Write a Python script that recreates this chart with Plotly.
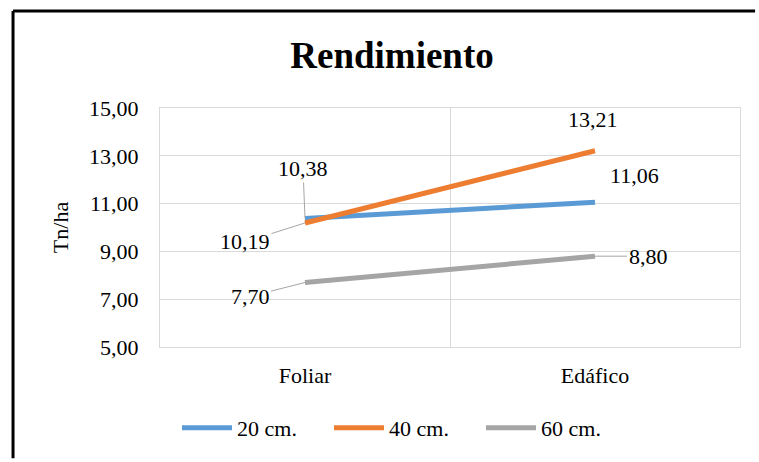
import plotly.graph_objects as go

categories = ["Foliar", "Edáfico"]
series_names = ["20 cm.", "40 cm.", "60 cm."]
v20 = [10.38, 11.06]
v40 = [10.19, 13.21]
v60 = [7.70, 8.80]
colors = ["#5B9BD5", "#ED7D31", "#A5A5A5"]
y_ticks = [5, 7, 9, 11, 13, 15]

FONT = "Liberation Serif"

fig = go.Figure()
for name, vals, col in zip(series_names, [v20, v40, v60], colors):
    fig.add_trace(go.Scatter(x=categories, y=vals, mode="lines", name=name,
                             line=dict(color=col, width=5)))

def fmt(v):
    return f"{v:.2f}".replace(".", ",")

# label placement: (series values, index, ax, ay, arrow?)
label_specs = [
    (v20, 0, -2, -50, True),
    (v20, 1, 39, -27, False),
    (v40, 0, -60, 19, True),
    (v40, 1, -2, -31, False),
    (v60, 0, -55, 14, True),
    (v60, 1, 53, 0, True),
]
for vals, i, ax, ay, arrow in label_specs:
    if arrow:
        fig.add_annotation(x=categories[i], y=vals[i], text=fmt(vals[i]),
                           showarrow=True, arrowhead=0, arrowwidth=1,
                           arrowcolor="#A6A6A6", ax=ax, ay=ay,
                           font=dict(family=FONT, size=22, color="#000"))
    else:
        fig.add_annotation(x=categories[i], y=vals[i], text=fmt(vals[i]),
                           showarrow=False, xshift=ax, yshift=-ay,
                           font=dict(family=FONT, size=22, color="#000"))

# chart border (top and left edges; the rest lies outside the picture)
fig.add_shape(type="line", xref="paper", yref="paper",
              x0=-0.2534, x1=1.026, y0=1.406, y1=1.406,
              line=dict(color="#000", width=3), layer="above")
fig.add_shape(type="line", xref="paper", yref="paper",
              x0=-0.2534, x1=-0.2534, y0=-0.465, y1=1.406,
              line=dict(color="#000", width=3), layer="above")

fig.update_layout(
    width=759, height=462,
    margin=dict(l=160, r=19, t=108, b=115),
    paper_bgcolor="white", plot_bgcolor="white",
    font=dict(family=FONT, size=22, color="#000"),
    separators=",.",
    title=dict(text="<b>Rendimiento</b>", x=392 / 759, xanchor="center",
               y=1 - 55 / 462, yanchor="middle",
               font=dict(family=FONT, size=37, color="#000")),
    showlegend=True,
    legend=dict(orientation="h", x=(405 - 160) / 580, xanchor="center",
                y=(347 - 428) / 239, yanchor="middle",
                font=dict(family=FONT, size=22, color="#000"),
                itemwidth=50, entrywidth=87, tracegroupgap=0),
)
fig.update_xaxes(type="category", tickson="boundaries", showgrid=True,
                 gridcolor="#D9D9D9", gridwidth=1,
                 showline=True, linecolor="#D9D9D9", linewidth=1, mirror=True,
                 ticks="", ticklabelstandoff=9,
                 range=[-0.5, 1.5], zeroline=False,
                 tickfont=dict(family=FONT, size=22, color="#000"))
fig.update_yaxes(range=[5, 15], tickvals=y_ticks, tickformat=".2f",
                 showgrid=True, gridcolor="#D9D9D9", gridwidth=1,
                 zeroline=False,
                 showline=True, linecolor="#D9D9D9", linewidth=1, mirror=True,
                 ticks="outside", ticklen=16, tickcolor="rgba(0,0,0,0)",
                 title=dict(text="Tn/ha", standoff=14,
                            font=dict(family=FONT, size=22, color="#000")),
                 tickfont=dict(family=FONT, size=22, color="#000"))

fig.write_html("out.html")
